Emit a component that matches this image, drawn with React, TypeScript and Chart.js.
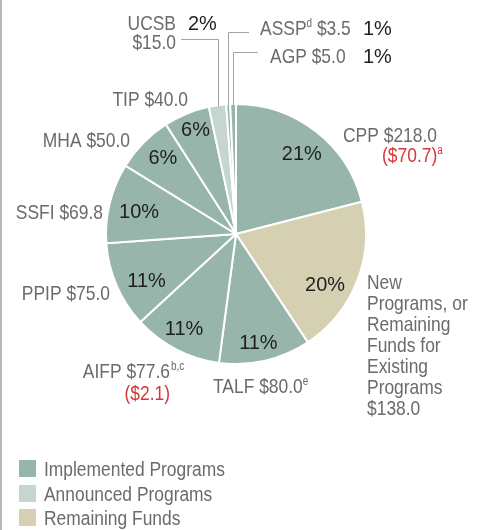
import React, { useEffect, useRef } from 'react';
import { Chart, registerables } from 'chart.js';

Chart.register(...registerables);

// ---- data ----
const programs = ['CPP', 'New Programs', 'TALF', 'AIFP', 'PPIP', 'SSFI', 'MHA', 'TIP', 'UCSB', 'ASSP', 'AGP'];
// outstanding amounts ($ billions) that size the slices (CPP net of $70.7 repaid)
const amounts = [147.3, 138.0, 80.0, 77.6, 75.0, 69.8, 50.0, 40.0, 15.0, 3.5, 5.0];
const statuses = ['implemented', 'remaining', 'implemented', 'implemented', 'implemented', 'implemented', 'implemented', 'implemented', 'announced', 'implemented', 'implemented'];
const percentLabels = ['21%', '20%', '11%', '11%', '11%', '10%', '6%', '6%', '2%', '1%', '1%'];
const legendStatuses = ['implemented', 'announced', 'remaining'];
const legendLabels = ['Implemented Programs', 'Announced Programs', 'Remaining Funds'];

// ---- styles ----
const statusColors: Record<string, string> = {
  implemented: '#97b5ab',
  announced: '#c5d6d0',
  remaining: '#d5d0b2',
};
const GRAY = '#6b6b6b';
const RED = '#d8353a';
const BLACK = '#1e1e1e';
const LINE = '#a3a3a3';
const FONT = '"Liberation Sans", Arial, sans-serif';

type Seg = { t: string; c?: string; sup?: boolean };

function drawSegs(ctx: CanvasRenderingContext2D, segs: Seg[], x: number, y: number, align: 'left' | 'right' | 'center', size: number, sx: number, defColor: string) {
  const widths = segs.map((s) => {
    const sz = s.sup ? Math.round(size * 0.58) : size;
    ctx.font = `${sz}px ${FONT}`;
    return ctx.measureText(s.t).width * sx;
  });
  const total = widths.reduce((a, b) => a + b, 0);
  let cx = align === 'left' ? x : align === 'right' ? x - total : x - total / 2;
  segs.forEach((s, i) => {
    const sz = s.sup ? Math.round(size * 0.58) : size;
    ctx.save();
    ctx.font = `${sz}px ${FONT}`;
    ctx.fillStyle = s.c || defColor;
    ctx.textAlign = 'left';
    ctx.textBaseline = 'alphabetic';
    ctx.translate(cx, s.sup ? y - size * 0.4 : y);
    ctx.scale(sx, 1);
    ctx.fillText(s.t, 0, 0);
    ctx.restore();
    cx += widths[i];
  });
}

// label text blocks: [segments, x, baseline, align]
const outerLabels: [Seg[], number, number, 'left' | 'right'][] = [
  [[{ t: 'CPP $218.0' }], 343, 142, 'left'],
  [[{ t: '($70.7)', c: RED }, { t: 'a', c: RED, sup: true }], 382, 162, 'left'],
  [[{ t: 'New' }], 367, 289, 'left'],
  [[{ t: 'Programs, or' }], 367, 310, 'left'],
  [[{ t: 'Remaining' }], 367, 331, 'left'],
  [[{ t: 'Funds for' }], 367, 352, 'left'],
  [[{ t: 'Existing' }], 367, 373, 'left'],
  [[{ t: 'Programs' }], 367, 394, 'left'],
  [[{ t: '$138.0' }], 367, 415, 'left'],
  [[{ t: 'TALF $80.0' }, { t: 'e', sup: true }], 213, 393, 'left'],
  [[{ t: 'AIFP $77.6' }], 170, 378, 'right'],
  [[{ t: '($2.1)', c: RED }], 170, 400, 'right'],
  [[{ t: 'PPIP $75.0' }], 110, 300, 'right'],
  [[{ t: 'SSFI $69.8' }], 103, 219, 'right'],
  [[{ t: 'MHA $50.0' }], 130, 147, 'right'],
  [[{ t: 'TIP $40.0' }], 188, 106, 'right'],
  [[{ t: 'UCSB' }], 176, 30, 'right'],
  [[{ t: '$15.0' }], 176, 49, 'right'],
  [[{ t: 'ASSP' }, { t: 'd', sup: true }, { t: ' $3.5' }], 260, 35, 'left'],
  [[{ t: 'AGP $5.0' }], 270, 63, 'left'],
];

// outside percent labels for the thin slices: index -> [x, baseline]
const outsidePct: Record<number, [number, number]> = { 8: [188, 30], 9: [363, 35], 10: [363, 63] };
// leader lines for thin slices: index -> [elbow y, end x]
const leaders: Record<number, [number, number]> = { 8: [39, 181], 9: [32, 249], 10: [52, 258] };
// small nudges for in-slice percent labels
const pctNudge: [number, number][] = [[2, 1], [-8, 12], [-1, 6], [-4, 1], [6, 4], [4, 1], [1, -5], [-1, -9]];

const labelPlugin = {
  id: 'labels',
  afterDatasetsDraw(chart: any) {
    const ctx: CanvasRenderingContext2D = chart.ctx;
    const meta = chart.getDatasetMeta(0);
    ctx.save();
    // left rule
    ctx.fillStyle = '#b8b8b8';
    ctx.fillRect(0, 0, 2, chart.height);

    meta.data.forEach((arc: any, i: number) => {
      const { x, y, startAngle, endAngle, outerRadius } = arc.getProps(['x', 'y', 'startAngle', 'endAngle', 'outerRadius'], true);
      const mid = (startAngle + endAngle) / 2;
      if (outsidePct[i]) {
        const r = outerRadius - 1;
        const px = x + Math.cos(mid) * r;
        const py = y + Math.sin(mid) * r;
        const [ey, ex] = leaders[i];
        ctx.strokeStyle = LINE;
        ctx.lineWidth = 1;
        ctx.beginPath();
        ctx.moveTo(Math.round(px) + 0.5, py);
        ctx.lineTo(Math.round(px) + 0.5, ey + 0.5);
        ctx.lineTo(ex, ey + 0.5);
        ctx.stroke();
        const [lx, ly] = outsidePct[i];
        drawSegs(ctx, [{ t: percentLabels[i] }], lx, ly, 'left', 21, 0.95, BLACK);
      } else {
        const r = outerRadius * 0.8;
        const n = pctNudge[i] || [0, 0];
        const px = x + Math.cos(mid) * r + n[0];
        const py = y + Math.sin(mid) * r + n[1];
        drawSegs(ctx, [{ t: percentLabels[i] }], px, py + 7.5, 'center', 21, 0.95, BLACK);
      }
    });

    outerLabels.forEach(([segs, lx, ly, align]) => {
      drawSegs(ctx, segs, lx, ly, align, 21, 0.83, GRAY);
    });
    // superscript for AIFP placed after right-aligned main text
    drawSegs(ctx, [{ t: 'b,c', sup: true }], 171, 378, 'left', 21, 0.83, GRAY);

    // legend
    legendLabels.forEach((lab, i) => {
      const by = 460 + i * 24.5;
      ctx.fillStyle = statusColors[legendStatuses[i]];
      ctx.fillRect(19, Math.round(by), 17, 17);
      drawSegs(ctx, [{ t: lab }], 44, Math.round(by) + 16, 'left', 20, 0.87, GRAY);
    });
    ctx.restore();
  },
};

export default function App() {
  const ref = useRef<HTMLCanvasElement | null>(null);
  useEffect(() => {
    if (!ref.current) return;
    const chart = new Chart(ref.current, {
      type: 'pie',
      data: {
        labels: programs,
        datasets: [
          {
            data: amounts,
            backgroundColor: statuses.map((s) => statusColors[s]),
            borderColor: '#ffffff',
            borderWidth: 2,
          },
        ],
      },
      options: {
        responsive: false,
        animation: false,
        layout: { padding: { left: 105, top: 103, right: 118, bottom: 165 } },
        plugins: { legend: { display: false }, tooltip: { enabled: false } },
      },
      plugins: [labelPlugin],
    });
    return () => chart.destroy();
  }, []);
  return (
    <div style={{ position: 'absolute', left: 0, top: 0, width: 485, height: 530, background: '#fff' }}>
      <canvas ref={ref} width={485} height={530} />
    </div>
  );
}
